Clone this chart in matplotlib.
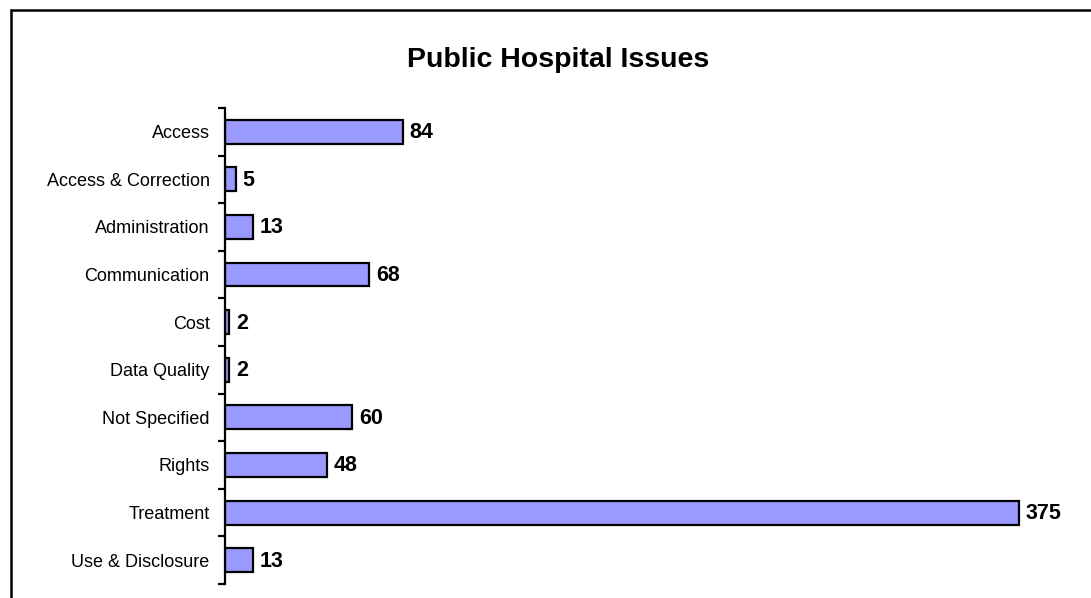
import matplotlib.pyplot as plt
from matplotlib.patches import Rectangle

plt.rcParams['font.family'] = ['Liberation Sans', 'DejaVu Sans']

categories = ['Access', 'Access & Correction', 'Administration', 'Communication',
              'Cost', 'Data Quality', 'Not Specified', 'Rights', 'Treatment',
              'Use & Disclosure']
counts = [84, 5, 13, 68, 2, 2, 60, 48, 375, 13]

fig = plt.figure(figsize=(10.91, 5.98), dpi=100)
ax = fig.add_axes([225 / 1091, 14 / 598, 847 / 1091, 476 / 598])

pos = range(len(categories))
ax.barh(pos, counts, height=0.5, color='#9999FF', edgecolor='black', linewidth=1.6)

# value labels to the right of each bar
for p, v in zip(pos, counts):
    ax.text(v + 3.2, p + 0.02, str(v), va='center', ha='left', fontsize=15.5, fontweight='bold')

ax.set_xlim(0, 400)
ax.set_ylim(len(categories) - 0.5, -0.5)
ax.set_yticks(pos)
ax.set_yticklabels(categories, fontsize=13)
ax.set_yticks([i - 0.5 for i in range(len(categories) + 1)], minor=True)
ax.tick_params(axis='y', which='major', length=0, pad=11)
ax.tick_params(axis='y', which='minor', length=5, width=1.6, direction='out')
ax.set_xticks([])
for side in ['top', 'right', 'bottom']:
    ax.spines[side].set_visible(False)
ax.spines['left'].set_linewidth(1.6)

fig.text(558 / 1091, 1 - 60 / 598, 'Public Hospital Issues', ha='center', va='center',
         fontsize=20.5, fontweight='bold')

# chart area border
fig.patches.append(Rectangle((11 / 1091, -0.1), 1.2, 1.1 - 11 / 598 + 0.001,
                             transform=fig.transFigure, fill=False,
                             edgecolor='black', linewidth=1.8))

plt.savefig('out.png', dpi=100)
